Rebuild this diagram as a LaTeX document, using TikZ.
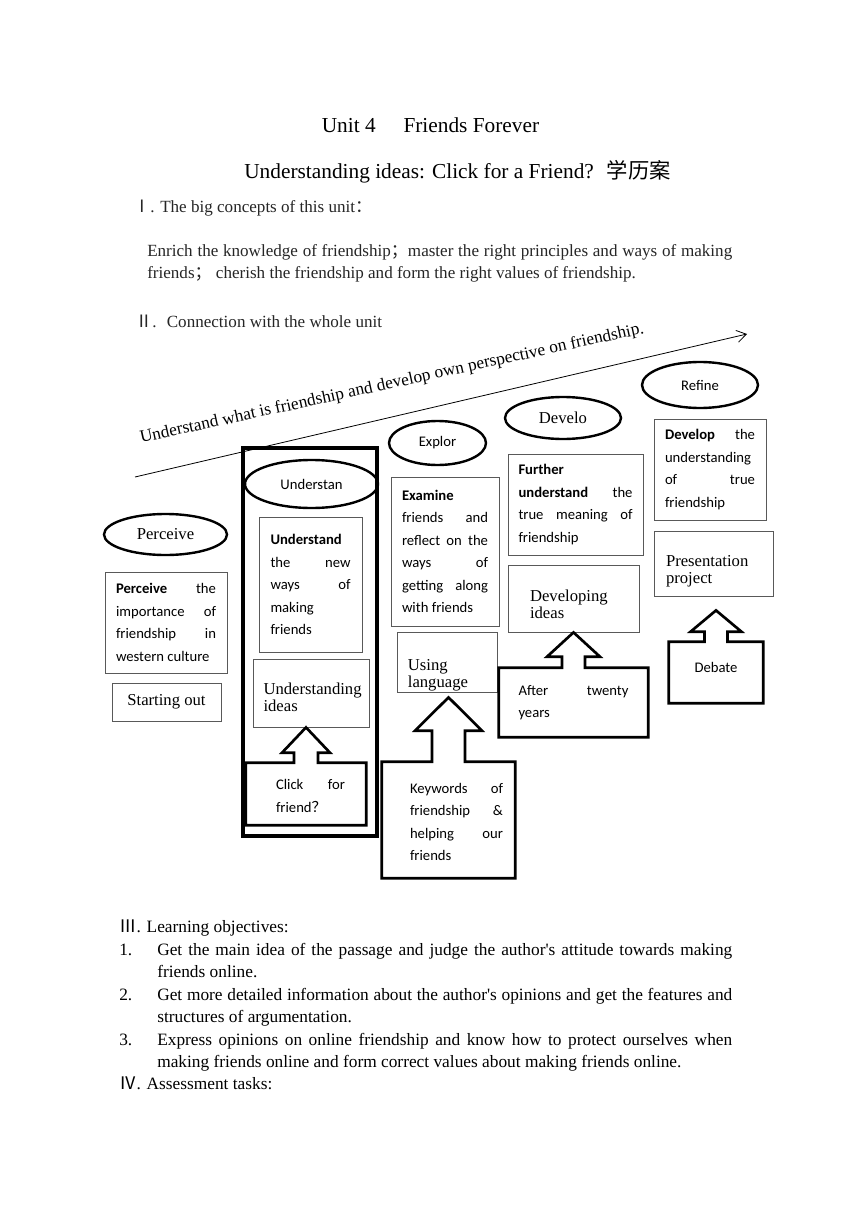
\documentclass[tikz,border=0pt]{standalone}
\usepackage{fontspec}
\setmainfont{Liberation Serif}[Ligatures=TeXOff]
\newfontfamily\cbr{Carlito}
\newfontfamily\cjk{Noto Sans CJK SC}
\usetikzlibrary{shapes.geometric,arrows.meta,calc}
\newlength{\px}\setlength{\px}{0.75pt}
\hyphenpenalty=10000
\exhyphenpenalty=10000

\begin{document}
\begin{tikzpicture}[x=0.75pt, y=-0.75pt,
  tbox/.style={draw=black!65, line width=0.6pt, rectangle, inner sep=0pt, align=justify, font=\cbr\fontsize{11}{16.9}\selectfont},
  sbox/.style={draw=black!65, line width=0.6pt, rectangle, inner sep=0pt, align=left, font=\fontsize{12.5}{12.75}\selectfont},
  abox/.style={rectangle, inner sep=0pt, align=justify, font=\cbr\fontsize{11}{16.9}\selectfont},
  oval/.style={draw, ellipse, line width=1.8pt, inner sep=0pt},
  bigframe/.style={draw, line width=2.4pt},
  barrow/.style={draw, line width=2pt, line join=miter},
  para/.style={anchor=base west, align=justify, inner sep=0pt}]

  \fill[white] (0,0) rectangle (860,1216);
  \useasboundingbox (0,0) rectangle (860,1216);

  % headings
  \node[anchor=base, inner sep=0pt, font=\fontsize{16}{16}\selectfont] (title) at (430.5,133) {Unit 4\hspace{1.3em}Friends Forever};
  \node[anchor=base, inner sep=0pt, font=\fontsize{16}{16}\selectfont] (subtitle) at (457.5,179) {Understanding ideas: Click for a Friend?\hspace{0.6em}{\cjk 学历案}};
  \node[para, text=black!85, font=\fontsize{12.8}{12.8}\selectfont] (sec1) at (133,213) {{\cjk Ⅰ}. The big concepts of this unit{\cjk ：}};
  \node[para, text=black!85, text width=585\px, font=\fontsize{12.8}{16.5}\selectfont] (concepts) at (147,257)
    {Enrich the knowledge of friendship{\cjk ；}master the right principles and ways of making friends{\cjk ；} cherish the friendship and form the right values of friendship.};
  \node[para, text=black!85, font=\fontsize{12.8}{12.8}\selectfont] (sec2) at (135,327) {{\cjk Ⅱ}.\hspace{0.6em}Connection with the whole unit};

  % the long arrow
  \coordinate (arcs) at (135,477);
  \coordinate (arce) at (747,334);
  \draw[line width=0.6pt, -{Straight Barb[length=7pt,width=9pt]}] (arcs) -- (arce);
  \node[anchor=base west, inner sep=0pt, rotate=12.3, font=\fontsize{13}{13}\selectfont] (arctext) at (141,443)
    {Understand what is friendship and develop own perspective on friendship.};

  % stage 1
  \node[oval, minimum width=123\px, minimum height=41\px, font=\fontsize{12.5}{12.5}\selectfont] (perc) at (165.5,534.5) {Perceive};
  \node[tbox, minimum width=122\px, minimum height=101\px, text width=100\px] (percbox) at (166,622.5)
    {\textbf{Perceive} the\linebreak importance of\linebreak friendship in\linebreak western culture};
  \node[sbox, minimum width=109\px, minimum height=38\px, align=center] (start) at (166.5,702) {Starting out};

  % stage 2
  \node[bigframe, minimum width=134\px, minimum height=388\px] (stage2) at (310,642) {};
  \node[oval, minimum width=133\px, minimum height=48\px, font=\cbr\fontsize{11}{11}\selectfont] (und) at (311.5,484) {Understan};
  \node[tbox, minimum width=103\px, minimum height=135\px, text width=80\px] (undbox) at (310.5,584.5)
    {\textbf{Understand}\linebreak the new\linebreak ways of\linebreak making\linebreak friends};
  \node[sbox, minimum width=116\px, minimum height=68\px, text width=95\px, text height=9pt, text depth=7.5pt] (uid) at (311,693) {Understanding\\ideas};
  \node[abox, minimum width=120\px, minimum height=62\px] (clk) at (306,794) {};
  \node[abox, text width=69\px] (clktxt) at ($(clk.center)+(4.5,2)$) {Click for\linebreak friend{\cjk ？}};
  \draw[barrow] (clk.north west) -- ($(clk.north)+(-12,0)$) -- ++(0,-10) -- ++(-12,0)
    -- (clk.north |- uid.south) -- ($(clk.north)+(24,-10)$) -- ++(-12,0) -- ($(clk.north)+(12,0)$)
    -- (clk.north east) -- (clk.south east) -- (clk.south west) -- cycle;

  % stage 3
  \node[oval, minimum width=97\px, minimum height=44\px, font=\cbr\fontsize{11}{11}\selectfont] (exp) at (437.5,443) {Explor};
  \node[tbox, minimum width=108\px, minimum height=149\px, text width=86\px] (exabox) at (445,551.5)
    {\textbf{Examine}\linebreak friends and\linebreak reflect on the\linebreak ways of\linebreak getting along\linebreak with friends};
  \node[sbox, minimum width=100\px, minimum height=60\px] (use) at (447,662) {};
  \begin{scope}
    \clip (use.south west) rectangle (use.north east);
    \node[anchor=base west, align=left, inner sep=0pt, font=\fontsize{12.5}{12.75}\selectfont] (usetxt)
      at ($(use.north west)+(11,56)$) {Using\\language};
  \end{scope}
  \node[abox, minimum width=133\px, minimum height=116\px] (kw) at (448.5,820) {};
  \node[abox, text width=93\px] (kwtxt) at ($(kw.center)+(8,2)$)
    {Keywords of\linebreak friendship \&\linebreak helping our\linebreak friends};
  \draw[barrow] (kw.north west) -- ($(kw.north)+(-16.5,0)$) -- ++(0,-31) -- ++(-17,0)
    -- ($(kw.north |- use.south)+(0,5)$) -- ($(kw.north)+(33.5,-31)$) -- ++(-17,0) -- ($(kw.north)+(16.5,0)$)
    -- (kw.north east) -- (kw.south east) -- (kw.south west) -- cycle;

  % stage 4
  \node[oval, minimum width=116\px, minimum height=42\px, font=\fontsize{12.5}{12.5}\selectfont] (dev) at (563,418) {Develo};
  \node[tbox, minimum width=135\px, minimum height=101\px, text width=114\px] (furbox) at (575.5,504.5)
    {\textbf{Further}\linebreak \textbf{understand} the\linebreak true meaning of\linebreak friendship};
  \node[sbox, minimum width=131\px, minimum height=67\px, text width=87\px, text height=9pt, text depth=3.8pt] (devid) at (573.5,598.5) {Developing\\ideas};
  \node[abox, minimum width=149\px, minimum height=69\px, text width=110\px] (aft) at (573.5,702.5) {After twenty\linebreak years};
  \draw[barrow] (aft.north west) -- ($(aft.north)+(-11.5,0)$) -- ++(0,-11) -- ++(-15,0)
    -- (aft.north |- devid.south) -- ($(aft.north)+(26.5,-11)$) -- ++(-15,0) -- ($(aft.north)+(11.5,0)$)
    -- (aft.north east) -- (aft.south east) -- (aft.south west) -- cycle;

  % stage 5
  \node[oval, minimum width=116\px, minimum height=46\px, font=\cbr\fontsize{11}{11}\selectfont] (ref) at (700,385) {Refine};
  \node[tbox, minimum width=112\px, minimum height=101\px, text width=90\px] (devbox) at (710,469.5)
    {\textbf{Develop} the\linebreak understanding\linebreak of true\linebreak friendship};
  \node[sbox, minimum width=119\px, minimum height=65\px, text width=95\px, text height=9pt, text depth=3.8pt] (pres) at (713.5,563.5) {Presentation\\project};
  \node[abox, minimum width=94\px, minimum height=61\px, align=center, text height=8pt, text depth=8pt] (deb) at (716,672.5) {Debate};
  \draw[barrow] (deb.north west) -- ($(deb.north)+(-11.5,0)$) -- ++(0,-10) -- ++(-14,0)
    -- ($(deb.north |- pres.south)+(0,14)$) -- ($(deb.north)+(25.5,-10)$) -- ++(-14,0) -- ($(deb.north)+(11.5,0)$)
    -- (deb.north east) -- (deb.south east) -- (deb.south west) -- cycle;

  % objectives
  \node[para, font=\fontsize{13}{16.8}\selectfont] (sec3) at (119,932) {{\cjk Ⅲ}. Learning objectives:};
  \node[para, font=\fontsize{13}{16.8}\selectfont] (n1) at (119,955) {1.};
  \node[para, text width=575\px, font=\fontsize{13}{16.8}\selectfont] (obj1) at (157,955)
    {Get the main idea of the passage and judge the author's attitude towards making friends online.};
  \node[para, font=\fontsize{13}{16.8}\selectfont] (n2) at (119,1000) {2.};
  \node[para, text width=575\px, font=\fontsize{13}{16.8}\selectfont] (obj2) at (157,1000)
    {Get more detailed information about the author's opinions and get the features and structures of argumentation.};
  \node[para, font=\fontsize{13}{16.8}\selectfont] (n3) at (119,1045) {3.};
  \node[para, text width=575\px, font=\fontsize{13}{16.8}\selectfont] (obj3) at (157,1045)
    {Express opinions on online friendship and know how to protect ourselves when making friends online and form correct values about making friends online.};
  \node[para, font=\fontsize{13}{16.8}\selectfont] (sec4) at (119,1089) {{\cjk Ⅳ}. Assessment tasks:};
\end{tikzpicture}
\end{document}
